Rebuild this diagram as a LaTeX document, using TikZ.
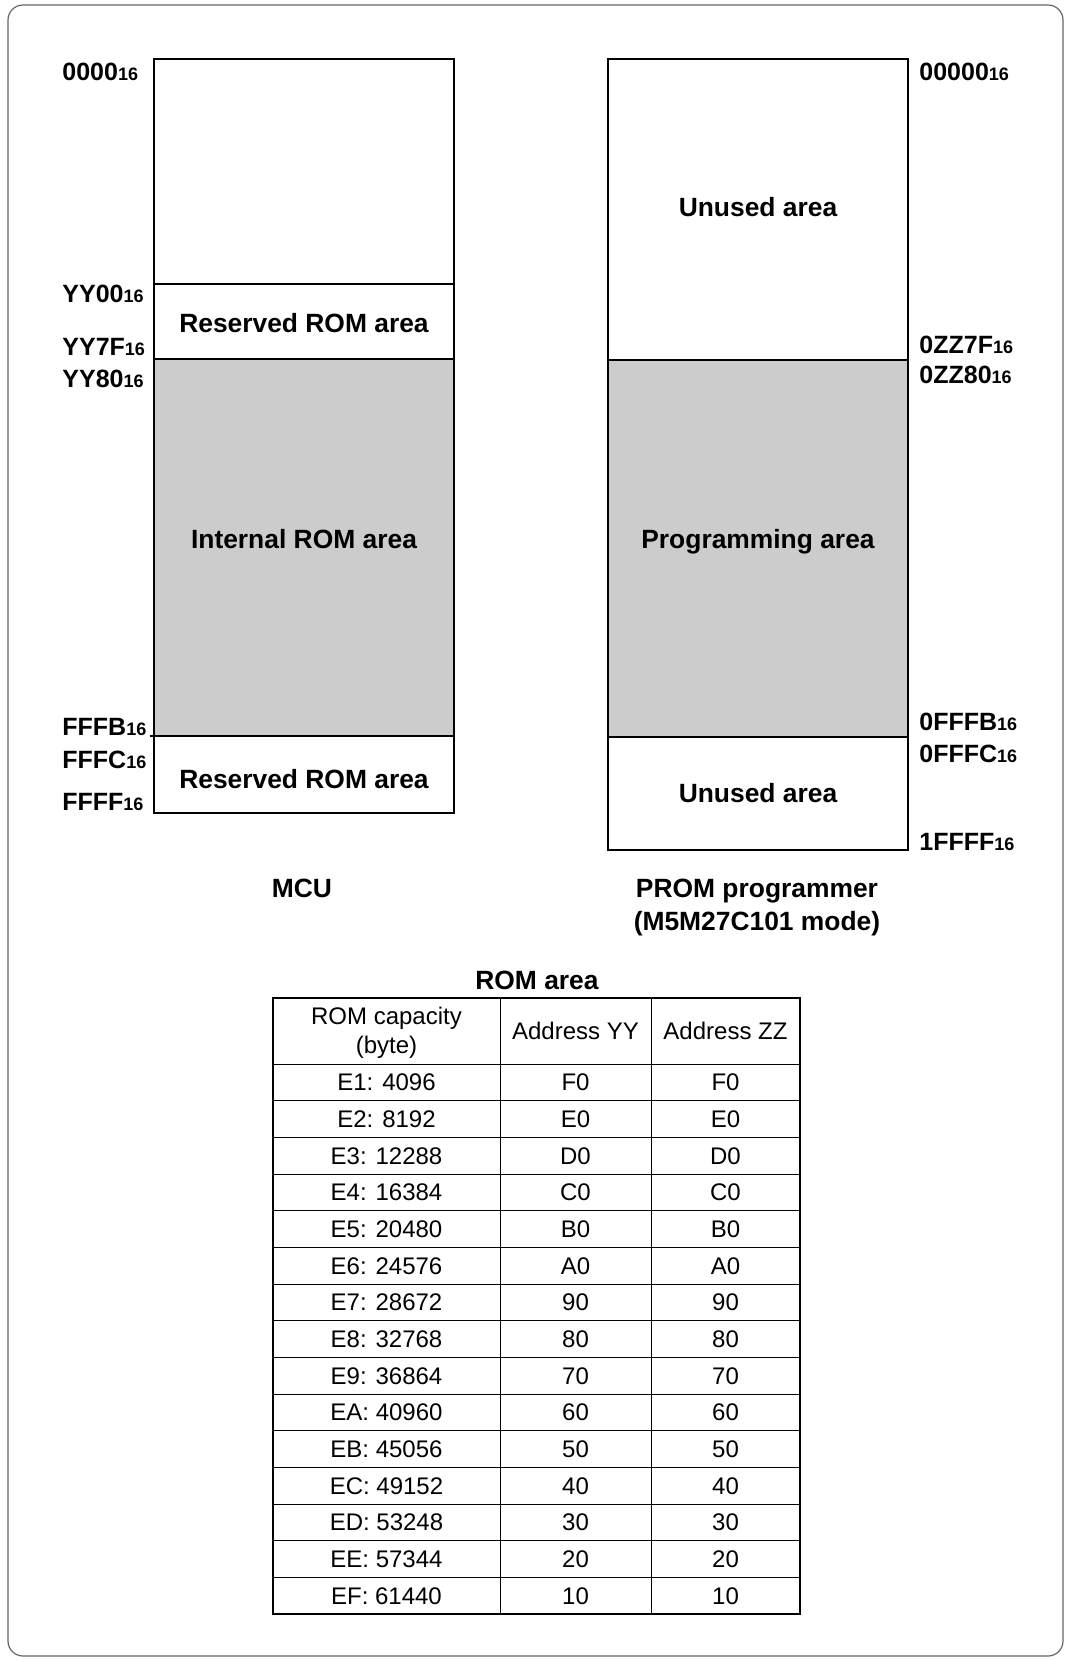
\documentclass[tikz,border=0pt]{standalone}
\usepackage{fontspec}
\setmainfont{Liberation Sans}
\newcommand\hexsub{{\fontsize{9}{9}\selectfont 16}}
\begin{document}
\begin{tikzpicture}[x=0.5pt,y=-0.5pt,
  addr/.style={font=\fontsize{12.5}{14}\selectfont\bfseries, inner sep=0pt, anchor=base west},
  area/.style={font=\fontsize{13.2}{15}\selectfont\bfseries, inner sep=0pt, anchor=base},
  cell/.style={font=\fontsize{12}{14}\selectfont, inner sep=0pt, anchor=base, align=center},
  memline/.style={line width=1pt},
  romfill/.style={fill=black!20}]
\useasboundingbox (0,0) rectangle (1066,1661);
% outer frame
\draw[black!60, line width=0.6pt, rounded corners=7.5pt] (8,5) rectangle (1063,1656);

% ---- MCU map ----
\fill[romfill] (154,359) rectangle (454,736);
\draw[memline] (154,59) rectangle (454,813);
\draw[memline] (154,284) -- (454,284);
\draw[memline] (154,359) -- (454,359);
\draw[memline] (150,736) -- (454,736);

\node[area] (mresA) at (304,332) {Reserved ROM area};
\node[area] (mint) at (304,548) {Internal ROM area};
\node[area] (mresB) at (304,788) {Reserved ROM area};

\node[addr] (a0000) at (62,80) {0000\hexsub};
\node[addr] (aYY00) at (62,302) {YY00\hexsub};
\node[addr] (aYY7F) at (62,355) {YY7F\hexsub};
\node[addr] (aYY80) at (62,387) {YY80\hexsub};
\node[addr] (aFFFB) at (62,735) {FFFB\hexsub};
\node[addr] (aFFFC) at (62,768) {FFFC\hexsub};
\node[addr] (aFFFF) at (62,810) {FFFF\hexsub};

% ---- PROM map ----
\fill[romfill] (608,360) rectangle (908,737);
\draw[memline] (608,59) rectangle (908,850);
\draw[memline] (608,360) -- (908,360);
\draw[memline] (608,737) -- (908,737);

\node[area] (pun1) at (758,216) {Unused area};
\node[area] (pprog) at (758,548) {Programming area};
\node[area] (pun2) at (758,802) {Unused area};

\node[addr] (b00000) at (919,80) {00000\hexsub};
\node[addr] (b0ZZ7F) at (919,353) {0ZZ7F\hexsub};
\node[addr] (b0ZZ80) at (919,383) {0ZZ80\hexsub};
\node[addr] (b0FFFB) at (919,730) {0FFFB\hexsub};
\node[addr] (b0FFFC) at (919,762) {0FFFC\hexsub};
\node[addr] (b1FFFF) at (919,850) {1FFFF\hexsub};

% captions
\node[area] (mcu) at (302,897) {MCU};
\node[area] (prom1) at (757,897) {PROM programmer};
\node[area] (prom2) at (757,930) {(M5M27C101 mode)};
\node[area] (romtitle) at (537,989) {ROM area};

% ---- table ----
\def\rh{36.67}
\foreach \i in {1,...,14} {
  \draw[line width=0.5pt] (273,{1064+\i*\rh}) -- (800,{1064+\i*\rh});
}
\draw[line width=0.5pt] (273,1064) -- (800,1064);
\draw[line width=0.5pt] (500,998) -- (500,1614);
\draw[line width=0.5pt] (651,998) -- (651,1614);
\draw[line width=1pt] (273,998) rectangle (800,1614);

\node[cell] (h1a) at (386.5,1024) {ROM capacity};
\node[cell] (h1b) at (386.5,1053) {(byte)};
\node[cell] (h2) at (575.5,1039) {Address YY};
\node[cell] (h3) at (725.5,1039) {Address ZZ};

\foreach \cap/\yy [count=\i] in {E1: 4096/F0, E2: 8192/E0, E3: 12288/D0, E4: 16384/C0,
  E5: 20480/B0, E6: 24576/A0, E7: 28672/90, E8: 32768/80, E9: 36864/70,
  EA: 40960/60, EB: 45056/50, EC: 49152/40, ED: 53248/30, EE: 57344/20, EF: 61440/10} {
  \node[cell] (c\i a) at (386.5,{1064+(\i-0.5)*\rh+8.5}) {\cap};
  \node[cell] (c\i b) at (575.5,{1064+(\i-0.5)*\rh+8.5}) {\yy};
  \node[cell] (c\i c) at (725.5,{1064+(\i-0.5)*\rh+8.5}) {\yy};
}
\end{tikzpicture}
\end{document}
